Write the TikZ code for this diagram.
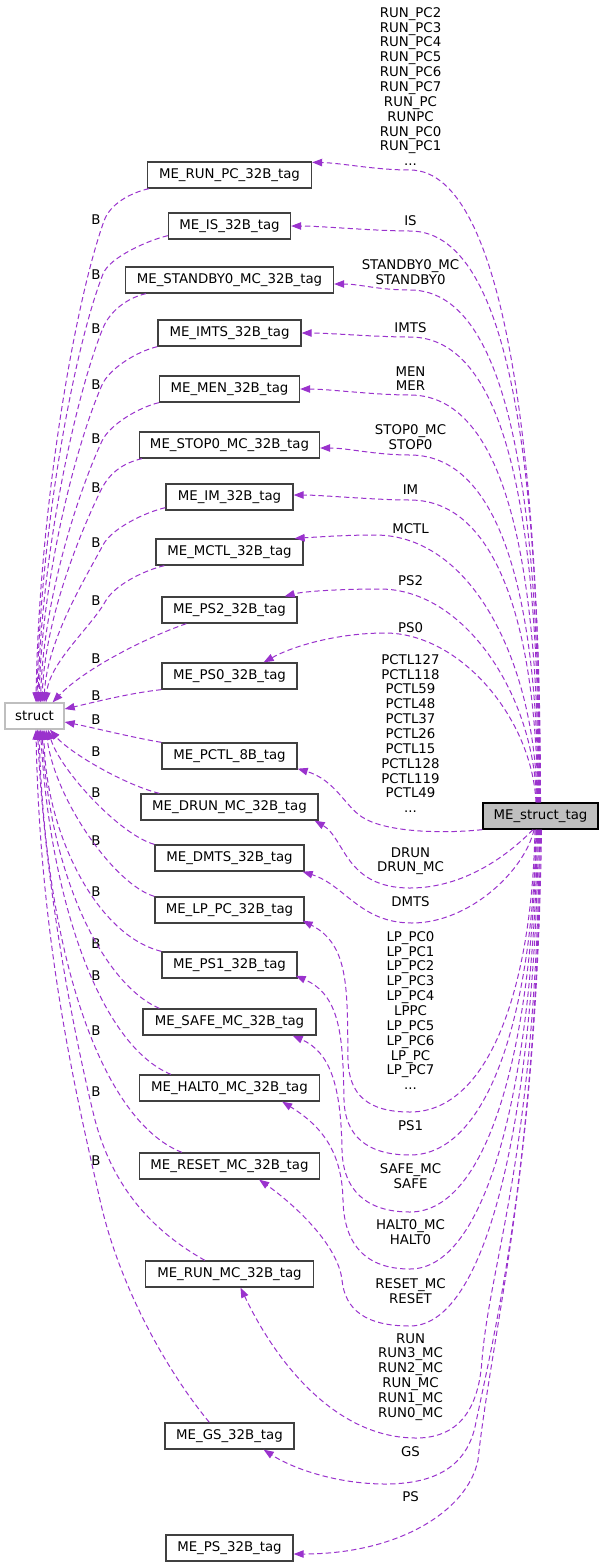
\documentclass[tikz,border=0pt]{standalone}
\usepackage{fontspec}
\setmainfont{DejaVu Sans}
\usetikzlibrary{arrows.meta,calc}
\definecolor{edgec}{HTML}{9A32CD}
\definecolor{boxc}{HTML}{404040}
\definecolor{greyc}{HTML}{BFBFBF}
\begin{document}
\begin{tikzpicture}[x=0.75pt,y=-0.75pt,
  every node/.style={font=\fontsize{10}{11.14}\selectfont, inner sep=0pt},
  bw/.style={minimum width=#1*0.75pt},
  cls/.style={draw=boxc, line width=1pt, fill=white, minimum height=19.5pt},
  lab/.style={align=center, anchor=north},
  blab/.style={},
  conn/.style={draw=edgec, line width=0.75pt, dash pattern=on 4pt off 2.4pt,
     -{Triangle[length=7.5pt,width=5.6pt,fill=edgec]}}]
\fill[white] (0,0) rectangle (603,1567);
\useasboundingbox (0,0) rectangle (603,1567);

% ---- nodes ----
\node[draw=greyc, line width=1pt, fill=white, bw=59, minimum height=19.5pt] (st) at (34.5,716) {struct};
\node[draw=black, line width=1pt, fill=greyc, bw=115, minimum height=19.5pt] (mst) at (540.5,816) {ME\_struct\_tag};

\node[cls,bw=164] (rpc)   at (229.5,175)  {ME\_RUN\_PC\_32B\_tag};
\node[cls,bw=122] (is)    at (229.5,226)  {ME\_IS\_32B\_tag};
\node[cls,bw=208] (sb)    at (229.5,280)  {ME\_STANDBY0\_MC\_32B\_tag};
\node[cls,bw=143] (imts)  at (229.5,333)  {ME\_IMTS\_32B\_tag};
\node[cls,bw=140] (men)   at (229.5,389)  {ME\_MEN\_32B\_tag};
\node[cls,bw=180] (stop)  at (229.5,445)  {ME\_STOP0\_MC\_32B\_tag};
\node[cls,bw=127] (im)    at (229.5,497)  {ME\_IM\_32B\_tag};
\node[cls,bw=147] (mctl)  at (229.5,552)  {ME\_MCTL\_32B\_tag};
\node[cls,bw=135] (ps2)   at (229.5,610)  {ME\_PS2\_32B\_tag};
\node[cls,bw=135] (ps0)   at (229.5,676)  {ME\_PS0\_32B\_tag};
\node[cls,bw=135] (pctl)  at (229.5,756)  {ME\_PCTL\_8B\_tag};
\node[cls,bw=177] (drun)  at (229.5,807)  {ME\_DRUN\_MC\_32B\_tag};
\node[cls,bw=149] (dmts)  at (229.5,858)  {ME\_DMTS\_32B\_tag};
\node[cls,bw=149] (lp)    at (229.5,910)  {ME\_LP\_PC\_32B\_tag};
\node[cls,bw=135] (ps1)   at (229.5,965)  {ME\_PS1\_32B\_tag};
\node[cls,bw=173] (safe)  at (229.5,1022) {ME\_SAFE\_MC\_32B\_tag};
\node[cls,bw=180] (halt)  at (229.5,1088) {ME\_HALT0\_MC\_32B\_tag};
\node[cls,bw=180] (reset) at (229.5,1166) {ME\_RESET\_MC\_32B\_tag};
\node[cls,bw=168] (runmc) at (229.5,1274) {ME\_RUN\_MC\_32B\_tag};
\node[cls,bw=129] (gs)    at (229.5,1436) {ME\_GS\_32B\_tag};
\node[cls,bw=127] (ps)    at (229.5,1548) {ME\_PS\_32B\_tag};

% ---- edge labels (member names) ----
\node[lab] (l1)  at (410.5,7.1)    {RUN\_PC2\\RUN\_PC3\\RUN\_PC4\\RUN\_PC5\\RUN\_PC6\\RUN\_PC7\\RUN\_PC\\RUNPC\\RUN\_PC0\\RUN\_PC1\\...};
\node[lab] (l2)  at (410.5,215.1)  {IS};
\node[lab] (l3)  at (410.5,259.1)  {STANDBY0\_MC\\STANDBY0};
\node[lab] (l4)  at (410.5,322.1)  {IMTS};
\node[lab] (l5)  at (410.5,366.1)  {MEN\\MER};
\node[lab] (l6)  at (410.5,424.1)  {STOP0\_MC\\STOP0};
\node[lab] (l7)  at (410.5,484.1)  {IM};
\node[lab] (l8)  at (410.5,523.1)  {MCTL};
\node[lab] (l9)  at (410.5,575.1)  {PS2};
\node[lab] (l10) at (410.5,622.1)  {PS0};
\node[lab] (l11) at (410.5,654.1)  {PCTL127\\PCTL118\\PCTL59\\PCTL48\\PCTL37\\PCTL26\\PCTL15\\PCTL128\\PCTL119\\PCTL49\\...};
\node[lab] (l12) at (410.5,847.1)  {DRUN\\DRUN\_MC};
\node[lab] (l13) at (410.5,896.1)  {DMTS};
\node[lab] (l14) at (410.5,931.1)  {LP\_PC0\\LP\_PC1\\LP\_PC2\\LP\_PC3\\LP\_PC4\\LPPC\\LP\_PC5\\LP\_PC6\\LP\_PC\\LP\_PC7\\...};
\node[lab] (l15) at (410.5,1120.1) {PS1};
\node[lab] (l16) at (410.5,1163.1) {SAFE\_MC\\SAFE};
\node[lab] (l17) at (410.5,1219.1) {HALT0\_MC\\HALT0};
\node[lab] (l18) at (410.5,1278.1) {RESET\_MC\\RESET};
\node[lab] (l19) at (410.5,1333.1) {RUN\\RUN3\_MC\\RUN2\_MC\\RUN\_MC\\RUN1\_MC\\RUN0\_MC};
\node[lab] (l20) at (410.5,1446.1) {GS};
\node[lab] (l21) at (410.5,1491.1) {PS};

% ---- B labels ----
\foreach \yy [count=\i] in {220,274.5,328.5,384.5,438.5,488,543,601,659,696,720,752,793,841,892,943.5,975.5,1030.5,1092,1160.5}
  \node (b\i) at (96,\yy) {B};

% ---- edges into struct (upper boxes) ----
\draw[conn] ($(rpc.south west)+(2,0)$) .. controls (130,193) and (110,204) .. (104,221) .. controls (74.5,303) and (39,510) .. ($(st.north)+(1.5,0)$);
\draw[conn] ($(is.south west)+(0,-4)$) .. controls (149,240) and (109.6,257) .. (103,274) .. controls (74,348) and (40,531) .. ($(st.north)+(2.5,0)$);
\draw[conn] ($(sb.south west)+(21,0)$) .. controls (127,298) and (110,311) .. (103,328) .. controls (76,394) and (41,553) .. ($(st.north)+(3.5,0)$);
\draw[conn] (imts.south west) .. controls (138,351) and (109.5,368) .. (102,385) .. controls (76.5,443) and (42,576) .. ($(st.north)+(4.5,0)$);
\draw[conn] (men.south west) .. controls (140,407) and (110,424) .. (102,441) .. controls (79,490) and (43.5,598) .. ($(st.north)+(6,0)$);
\draw[conn] ($(stop.south west)+(3,0)$) .. controls (123,463) and (109.3,473) .. (101,490) .. controls (80.4,532) and (45,618) .. ($(st.north)+(7.5,0)$);
\draw[conn] ($(im.south west)+(0,-3)$) .. controls (146,512) and (112,528) .. (103,545) .. controls (85,579) and (47,640) .. ($(st.north)+(9.5,0)$);
\draw[conn] ($(mctl.south west)+(9,0)$) .. controls (145,570) and (114,585) .. (105,602) .. controls (91,627) and (49,663) .. ($(st.north)+(11.5,0)$);
\draw[conn] ($(ps2.south west)+(25,0)$) .. controls (150,636) and (85,668) .. ($(st.north east)+(-12,0)$);
\draw[conn] (ps0.south west) .. controls (130,693) and (95,702) .. ($(st.east)+(0,-7)$);
% ---- edges into struct (lower boxes) ----
\draw[conn] (pctl.north west) .. controls (130,737) and (95,728) .. ($(st.east)+(0,6)$);
\draw[conn] ($(drun.north west)+(19,0)$) .. controls (125,785) and (70,753) .. ($(st.south)+(15.5,0)$);
\draw[conn] (dmts.north west) .. controls (120,835) and (60,770) .. ($(st.south)+(13.5,0)$);
\draw[conn] (lp.north west) .. controls (115,885) and (55,800) .. ($(st.south)+(11.5,0)$);
\draw[conn] (ps1.north west) .. controls (95,935) and (45,830) .. ($(st.south)+(9.5,0)$);
\draw[conn] ($(safe.north west)+(17,0)$) .. controls (105,985) and (50,880) .. ($(st.south)+(7.5,0)$);
\draw[conn] ($(halt.north west)+(32,0)$) .. controls (100,1045) and (50,900) .. ($(st.south)+(6,0)$);
\draw[conn] ($(reset.north west)+(43,0)$) .. controls (100,1120) and (45,950) .. ($(st.south)+(4.5,0)$);
\draw[conn] ($(runmc.north west)+(60,0)$) .. controls (160,1235) and (115,1195) .. (95,1120) .. controls (80,1060) and (45,900) .. ($(st.south)+(3,0)$);
\draw[conn] ($(gs.north west)+(45,0)$) .. controls (170,1375) and (120,1290) .. (100,1200) .. controls (80,1110) and (40,950) .. ($(st.south)+(1.5,0)$);

% ---- edges from ME_struct_tag (upper) ----
\draw[conn] (mst.north) .. controls (540.5,486) and (510,170) .. (410,170) .. controls (375,170) and (342,163) .. ($(rpc.north east)+(0,1)$);
\draw[conn] ($(mst.north)+(-0.5,0)$) .. controls (540,517) and (520,231) .. (410,231) .. controls (375,231) and (321,226) .. (is.east);
\draw[conn] ($(mst.north)+(-1,0)$) .. controls (539.5,546) and (520,290) .. (410,290) .. controls (378,290) and (360,284) .. ($(sb.east)+(0,4)$);
\draw[conn] ($(mst.north)+(-1.5,0)$) .. controls (539,570) and (520,337) .. (410,337) .. controls (375,337) and (330,333) .. (imts.east);
\draw[conn] ($(mst.north)+(-2,0)$) .. controls (538.5,599) and (515,395) .. (410,395) .. controls (375,395) and (328,389) .. (men.east);
\draw[conn] ($(mst.north)+(-2.5,0)$) .. controls (538,629) and (510,455) .. (410,455) .. controls (375,455) and (348,448) .. ($(stop.east)+(0,3)$);
\draw[conn] ($(mst.north)+(-3,0)$) .. controls (537,651) and (505,500) .. (410,500) .. controls (375,500) and (322,495) .. ($(im.east)+(0,-2)$);
\draw[conn] ($(mst.north)+(-3.5,0)$) .. controls (536,669) and (475,535) .. (375,535) .. controls (345,535) and (318,537) .. ($(mctl.north east)+(-9,0)$);
\draw[conn] ($(mst.north)+(-4,0)$) .. controls (535,696) and (465,589) .. (380,589) .. controls (345,589) and (305,591) .. ($(ps2.north east)+(-13,0)$);
\draw[conn] ($(mst.north)+(-4.5,0)$) .. controls (532,718) and (460,633) .. (385,633) .. controls (340,633) and (295,645) .. ($(ps0.north east)+(-34,0)$);
% ---- edges from ME_struct_tag (lower) ----
\draw[conn] (mst.south west) .. controls (440,834) and (385,832) .. (362,817) .. controls (345,806) and (335,780) .. ($(pctl.south east)+(0,-1)$);
\draw[conn] ($(mst.south)+(-7.5,0)$) .. controls (515,848) and (470,888) .. (410,888) .. controls (345,888) and (345,838) .. ($(drun.south east)+(-4,0)$);
\draw[conn] ($(mst.south)+(-6.5,0)$) .. controls (525,870) and (470,923) .. (412,923) .. controls (360,923) and (345,885) .. ($(dmts.south east)+(-2,0)$);
\draw[conn] ($(mst.south)+(-5.5,0)$) .. controls (532,985) and (490,1112) .. (410,1112) .. controls (368,1112) and (349,1095) .. (348,1060) .. controls (347,990) and (350,945) .. ($(lp.south east)+(-2,-3)$);
\draw[conn] ($(mst.south)+(-4.5,0)$) .. controls (533,1008) and (490,1155) .. (410,1155) .. controls (366,1155) and (345,1135) .. (344,1100) .. controls (343,1035) and (340,995) .. ($(ps1.south east)+(-2,-3)$);
\draw[conn] ($(mst.south)+(-4,0)$) .. controls (533,1040) and (490,1212) .. (410,1212) .. controls (366,1212) and (343,1190) .. (342,1150) .. controls (341,1085) and (330,1052) .. ($(safe.south east)+(-24,0)$);
\draw[conn] ($(mst.south)+(-3,0)$) .. controls (534,1071) and (490,1269) .. (410,1269) .. controls (366,1269) and (344,1245) .. (343,1200) .. controls (342,1150) and (320,1125) .. ($(halt.south east)+(-38,0)$);
\draw[conn] ($(mst.south)+(-2,0)$) .. controls (535,1102) and (490,1326) .. (410,1326) .. controls (366,1326) and (345,1310) .. (342,1280) .. controls (338,1245) and (295,1205) .. ($(reset.south east)+(-61,0)$);
\draw[conn] ($(mst.south)+(-1,0)$) .. controls (537,1150) and (490,1260) .. (482,1360) .. controls (478,1420) and (450,1438) .. (416,1438) .. controls (340,1438) and (280,1370) .. ($(runmc.south)+(11,0)$);
\draw[conn] (mst.south) .. controls (537,1160) and (495,1330) .. (475,1427) .. controls (465,1470) and (430,1484) .. (385,1484) .. controls (340,1484) and (295,1470) .. ($(gs.south east)+(-31,0)$);
\draw[conn] ($(mst.south)+(1,0)$) .. controls (537,1170) and (492,1330) .. (478,1460) .. controls (468,1510) and (400,1554) .. ($(ps.east)+(0,6)$);
\end{tikzpicture}
\end{document}
